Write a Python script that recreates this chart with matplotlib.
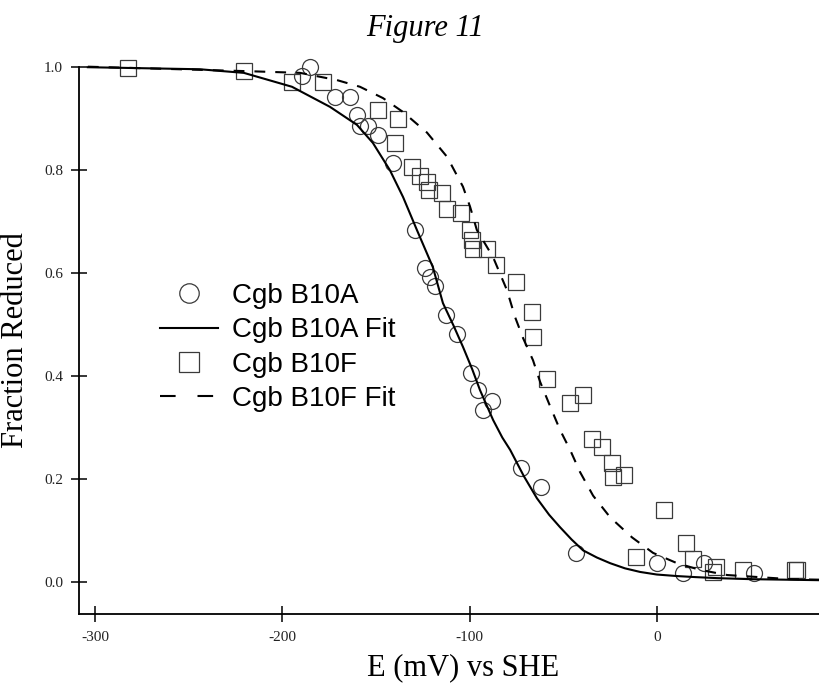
import matplotlib
matplotlib.use("Agg")
import matplotlib.pyplot as plt
from matplotlib.lines import Line2D

# ---- data ----
b10a_E = [-185.2, -189.6, -172.0, -163.8, -160.1, -158.5, -154.2, -148.9, -140.9,
          -129.1, -123.8, -121.1, -118.4, -112.6, -106.7, -99.2, -95.5, -88.0,
          -92.8, -72.5, -61.8, -43.1, 0.2, 14.0, 25.3, 52.0]
b10a_f = [1.000, 0.981, 0.942, 0.942, 0.906, 0.885, 0.885, 0.867, 0.813,
          0.683, 0.609, 0.592, 0.574, 0.518, 0.481, 0.405, 0.372, 0.351,
          0.333, 0.221, 0.184, 0.056, 0.036, 0.017, 0.036, 0.017]

b10f_E = [-282.4, -220.5, -194.8, -178.3, -148.9, -138.2, -139.8, -130.7, -126.4,
          -122.7, -121.6, -114.7, -112.0, -104.5, -99.7, -98.6, -98.1, -90.6,
          -85.8, -75.2, -66.6, -66.1, -58.6, -46.3, -39.4, -34.6, -29.2, -23.9,
          -23.3, -17.5, 3.9, 15.7, -11.1, 19.4, 31.7, 30.1, 46.1, 73.9, 75.0]
b10f_f = [0.997, 0.992, 0.970, 0.970, 0.916, 0.899, 0.852, 0.806, 0.788,
          0.776, 0.761, 0.755, 0.724, 0.716, 0.683, 0.664, 0.646, 0.646,
          0.615, 0.582, 0.524, 0.475, 0.394, 0.347, 0.363, 0.277, 0.262, 0.231,
          0.203, 0.207, 0.139, 0.075, 0.048, 0.044, 0.029, 0.019, 0.023, 0.023, 0.023]

fitA_E = [-303.8, -244.0, -220.5, -194.8, -174.5, -160.1, -151.6, -142.5, -135.5,
          -128.1, -119.6, -114.2, -108.5, -103.5, -98.5, -94.4, -87.4, -82.5,
          -78.3, -71.0, -64.0, -57.5, -51.7, -45.5, -39.4, -32.0, -24.9, -17.0,
          -8.9, 0.0, 10.8, 20.5, 32.2, 50.0, 86.7]
fitA_f = [0.999, 0.995, 0.988, 0.961, 0.922, 0.887, 0.852, 0.799, 0.747,
          0.683, 0.611, 0.541, 0.497, 0.456, 0.412, 0.372, 0.314, 0.280,
          0.256, 0.205, 0.162, 0.130, 0.106, 0.082, 0.061, 0.047, 0.036, 0.026,
          0.019, 0.014, 0.011, 0.009, 0.007, 0.005, 0.003]

fitF_E = [-303.8, -215.7, -190.5, -170.8, -158.5, -146.2, -135.5, -122.7, -112.0,
          -103.5, -99.7, -96.1, -87.4, -80.0, -75.7, -71.4, -66.1, -62.3, -57.0,
          -51.7, -46.3, -41.0, -34.0, -24.9, -13.2, -2.0, 10.8, 23.1, 37.6, 71.2, 86.7]
fitF_f = [1.000, 0.991, 0.988, 0.974, 0.961, 0.939, 0.912, 0.872, 0.825,
          0.767, 0.728, 0.683, 0.630, 0.566, 0.514, 0.473, 0.430, 0.388, 0.341,
          0.295, 0.256, 0.213, 0.167, 0.125, 0.086, 0.056, 0.036, 0.023, 0.013, 0.005, 0.004]

x_ticks = [-300, -200, -100, 0]
y_ticks = [0.0, 0.2, 0.4, 0.6, 0.8, 1.0]
labels = ["Cgb B10A", "Cgb B10A Fit", "Cgb B10F", "Cgb B10F Fit"]

SERIF = ["Liberation Serif", "DejaVu Serif"]
SANS = ["Liberation Sans", "DejaVu Sans"]

fig = plt.figure(figsize=(8.19, 6.84), dpi=100)
ax = fig.add_axes([0.0965, 0.1023, 0.9035, 0.8002])
ax.set_xlim(-308.5, 86.6)
ax.set_ylim(-0.0627, 1.0)

mk_col = "#3a3a3a"
ax.plot(b10a_E, b10a_f, linestyle="none", marker="o", markersize=11.5,
        markerfacecolor="none", markeredgecolor=mk_col, markeredgewidth=0.9,
        clip_on=False, zorder=2)
ax.plot(b10f_E, b10f_f, linestyle="none", marker="s", markersize=11.5,
        markerfacecolor="none", markeredgecolor=mk_col, markeredgewidth=0.9,
        clip_on=False, zorder=2)
ax.plot(fitA_E, fitA_f, color="black", linewidth=1.5, clip_on=False, zorder=3)
ax.plot(fitF_E, fitF_f, color="black", linewidth=1.5, dashes=(5.2, 4.8),
        clip_on=False, zorder=3)

for s in ("top", "right"):
    ax.spines[s].set_visible(False)
for s in ("left", "bottom"):
    ax.spines[s].set_linewidth(1.3)

ax.set_xticks(x_ticks)
ax.set_xticklabels([str(v) for v in x_ticks])
ax.set_yticks(y_ticks)
ax.set_yticklabels([f"{v:.1f}" for v in y_ticks])
ax.tick_params(axis="both", direction="inout", length=11, width=1.1,
               labelsize=11, labelcolor="#222222")
ax.tick_params(axis="x", pad=7)
ax.tick_params(axis="y", pad=6)
for lab in ax.get_xticklabels() + ax.get_yticklabels():
    lab.set_family(SERIF)

ax.set_xlabel("E (mV) vs SHE", family=SERIF, fontsize=22, labelpad=2)
ax.set_ylabel("Fraction Reduced", family=SERIF, fontsize=22, labelpad=10)
ax.xaxis.set_label_coords((463 - 79) / (819 - 79), -0.072)

fig.text(425 / 819, 1 - 36 / 684, "Figure 11", family=SERIF, style="italic",
         fontsize=22, ha="center", va="baseline")

handles = [
    Line2D([], [], linestyle="none", marker="o", markersize=14,
           markerfacecolor="none", markeredgecolor=mk_col, markeredgewidth=0.9),
    Line2D([], [], color="black", linewidth=1.5),
    Line2D([], [], linestyle="none", marker="s", markersize=14,
           markerfacecolor="none", markeredgecolor=mk_col, markeredgewidth=0.9),
    Line2D([], [], color="black", linewidth=1.5, dashes=(7.5, 10.5)),
]
leg = ax.legend(handles, labels, loc="upper left",
                bbox_to_anchor=(160 / 819, 1 - 283 / 684),
                bbox_transform=fig.transFigure, frameon=False,
                prop={"family": SANS, "size": 20}, borderpad=0,
                borderaxespad=0, labelspacing=0.3, handlelength=2.1,
                handletextpad=0.5)

fig.savefig("out.png", dpi=100)
